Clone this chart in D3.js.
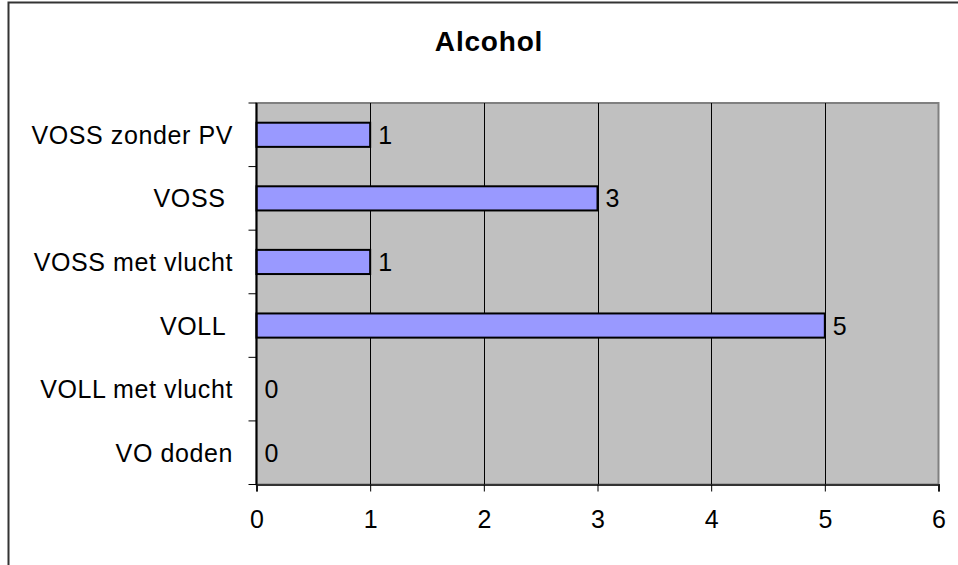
<!DOCTYPE html>
<html>
<head>
<meta charset="utf-8">
<script src="https://cdn.jsdelivr.net/npm/d3@7"></script>
<style>
  body { margin: 0; background: #fff; }
  text { font-family: Arial, "Liberation Sans", sans-serif; fill: #000; }
</style>
</head>
<body>
<svg id="chart" width="958" height="565"></svg>
<script>
// data
var categories = ["VOSS zonder PV", "VOSS ", "VOSS met vlucht", "VOLL ", "VOLL met vlucht", "VO doden"];
var values = [1, 3, 1, 5, 0, 0];
var xTicks = [0, 1, 2, 3, 4, 5, 6];
var title = "Alcohol";

var svg = d3.select("#chart");

// outer frame (top and left edges show)
svg.append("path")
  .attr("d", "M8.5,565 V2.5 H958")
  .attr("fill", "none")
  .attr("stroke", "#333")
  .attr("stroke-width", 2);

var plot = { left: 256.5, right: 938.5, top: 103, bottom: 484.5 };

var x = d3.scaleLinear().domain([0, 6]).range([plot.left, plot.right]);
var y = d3.scaleBand().domain(categories).range([plot.top, plot.bottom]).padding(0);

// plot background
svg.append("rect")
  .attr("x", plot.left).attr("y", plot.top)
  .attr("width", plot.right - plot.left).attr("height", plot.bottom - plot.top)
  .attr("fill", "#c0c0c0")
  .attr("stroke", "#808080")
  .attr("stroke-width", 2);

// vertical gridlines
svg.selectAll(".grid")
  .data(xTicks.slice(1, -1))
  .enter().append("line")
  .attr("x1", d => Math.round(x(d)) + 0.5).attr("x2", d => Math.round(x(d)) + 0.5)
  .attr("y1", plot.top).attr("y2", plot.bottom)
  .attr("stroke", "#000").attr("stroke-width", 1);

// bars
var barH = y.bandwidth() * 0.38;
svg.selectAll(".bar")
  .data(values)
  .enter().append("rect")
  .attr("x", x(0))
  .attr("y", (d, i) => y(categories[i]) + y.bandwidth() / 2 - barH / 2)
  .attr("width", d => x(d) - x(0))
  .attr("height", barH)
  .attr("fill", "#9999ff")
  .attr("stroke", "#000")
  .attr("stroke-width", d => d > 0 ? 2 : 0);

// value labels
svg.selectAll(".val")
  .data(values)
  .enter().append("text")
  .attr("x", d => x(d) + 8)
  .attr("y", (d, i) => y(categories[i]) + y.bandwidth() / 2 + 9)
  .attr("font-size", 25)
  .text(d => d);

// x axis
var xAxis = d3.axisBottom(x).tickValues(xTicks).tickFormat(d3.format("d")).tickSize(7).tickPadding(19);
var gx = svg.append("g")
  .attr("transform", "translate(0," + plot.bottom + ")")
  .call(xAxis);
gx.select(".domain").attr("stroke", "#333").attr("stroke-width", 2);
gx.selectAll(".tick line").attr("stroke", "#000");
gx.selectAll("text").attr("font-size", 25).attr("font-family", "Arial, 'Liberation Sans', sans-serif");

// y axis: ticks at band edges
var edges = categories.map(c => y(c)).concat([plot.bottom]);
svg.append("line")
  .attr("x1", plot.left).attr("x2", plot.left)
  .attr("y1", plot.top).attr("y2", plot.bottom)
  .attr("stroke", "#000").attr("stroke-width", 2);
svg.selectAll(".ytick")
  .data(edges)
  .enter().append("line")
  .attr("x1", plot.left - 8).attr("x2", plot.left)
  .attr("y1", d => d).attr("y2", d => d)
  .attr("stroke", "#000").attr("stroke-width", 1);

svg.selectAll(".ylab")
  .data(categories)
  .enter().append("text")
  .attr("x", 233)
  .attr("y", d => y(d) + y.bandwidth() / 2 + 9)
  .attr("text-anchor", "end")
  .attr("font-size", 25)
  .attr("letter-spacing", 0.6)
  .style("white-space", "pre")
  .text(d => d);

// title
svg.append("text")
  .attr("x", 489).attr("y", 51)
  .attr("text-anchor", "middle")
  .attr("font-size", 28)
  .attr("font-weight", "bold")
  .attr("letter-spacing", 0.8)
  .text(title);
</script>
</body>
</html>
